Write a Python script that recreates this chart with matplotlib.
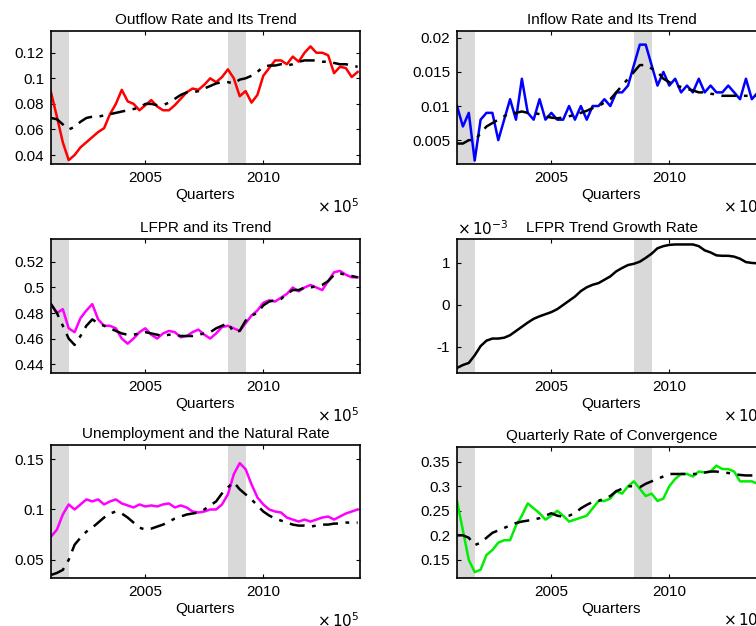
import numpy as np
import matplotlib
matplotlib.use("Agg")
import matplotlib.pyplot as plt

plt.rcParams['font.family'] = ['Liberation Sans', 'DejaVu Sans']
plt.rcParams['font.size'] = 11

quarters = 2001 + 0.25 * np.arange(53)
recessions = [(2001.0, 2001.75), (2008.5, 2009.25)]

outflow = [0.089, 0.070, 0.050, 0.036, 0.040, 0.046, 0.050, 0.054, 0.058, 0.061, 0.072, 0.080,
           0.091, 0.082, 0.080, 0.075, 0.079, 0.083, 0.078, 0.075, 0.075, 0.079, 0.084, 0.089,
           0.092, 0.091, 0.095, 0.100, 0.097, 0.101, 0.107, 0.100, 0.086, 0.090, 0.081, 0.087,
           0.102, 0.108, 0.114, 0.114, 0.111, 0.117, 0.113, 0.120, 0.125, 0.120, 0.120, 0.118,
           0.104, 0.109, 0.108, 0.101, 0.105]
outflow_trend = [0.069, 0.068, 0.064, 0.060, 0.062, 0.066, 0.069, 0.070, 0.070, 0.071, 0.072, 0.073,
                 0.074, 0.075, 0.076, 0.077, 0.080, 0.080, 0.079, 0.079, 0.081, 0.084, 0.087, 0.089,
                 0.089, 0.090, 0.092, 0.094, 0.096, 0.097, 0.097, 0.096, 0.099, 0.100, 0.102, 0.105,
                 0.109, 0.110, 0.110, 0.111, 0.110, 0.111, 0.113, 0.114, 0.114, 0.114, 0.113, 0.113,
                 0.112, 0.111, 0.111, 0.110, 0.109]

inflow = [0.010, 0.007, 0.009, 0.002, 0.008, 0.009, 0.009, 0.005, 0.008, 0.011, 0.008, 0.014,
          0.009, 0.008, 0.011, 0.008, 0.009, 0.008, 0.008, 0.010, 0.008, 0.010, 0.008, 0.010,
          0.010, 0.011, 0.010, 0.012, 0.012, 0.013, 0.016, 0.019, 0.019, 0.016, 0.013, 0.015,
          0.013, 0.014, 0.012, 0.013, 0.012, 0.014, 0.012, 0.013, 0.012, 0.012, 0.013, 0.012,
          0.011, 0.014, 0.011, 0.012, 0.012]
inflow_trend = [0.0045, 0.0045, 0.005, 0.005, 0.006, 0.007, 0.0075, 0.008, 0.0085, 0.009, 0.009, 0.0092,
                0.009, 0.009, 0.0088, 0.0085, 0.0083, 0.0082, 0.0083, 0.0085, 0.0087, 0.009, 0.0093, 0.0097,
                0.010, 0.0105, 0.011, 0.012, 0.013, 0.014, 0.015, 0.016, 0.016, 0.0155, 0.015, 0.014,
                0.0135, 0.013, 0.0128, 0.0125, 0.0123, 0.012, 0.012, 0.0118, 0.0117, 0.0115, 0.0115, 0.0115,
                0.0115, 0.0115, 0.0115, 0.0115, 0.0115]

lfpr = [0.487, 0.480, 0.483, 0.468, 0.465, 0.476, 0.482, 0.487, 0.475, 0.470, 0.470, 0.468,
        0.460, 0.456, 0.460, 0.465, 0.468, 0.463, 0.460, 0.464, 0.466, 0.465, 0.461, 0.462,
        0.465, 0.467, 0.463, 0.460, 0.464, 0.469, 0.470, 0.468, 0.466, 0.472, 0.478, 0.482,
        0.488, 0.490, 0.489, 0.492, 0.495, 0.500, 0.497, 0.500, 0.502, 0.500, 0.498, 0.505,
        0.512, 0.513, 0.510, 0.508, 0.508]
lfpr_trend = [0.487, 0.480, 0.470, 0.460, 0.455, 0.462, 0.470, 0.475, 0.472, 0.470, 0.468, 0.466,
              0.464, 0.463, 0.463, 0.464, 0.465, 0.464, 0.463, 0.462, 0.463, 0.463, 0.462, 0.462,
              0.462, 0.463, 0.464, 0.465, 0.468, 0.470, 0.472, 0.465, 0.466, 0.474, 0.478, 0.480,
              0.486, 0.489, 0.490, 0.491, 0.495, 0.498, 0.498, 0.500, 0.500, 0.501, 0.502, 0.505,
              0.510, 0.511, 0.510, 0.509, 0.508]

lfpr_growth = [-1.50, -1.43, -1.38, -1.20, -0.98, -0.85, -0.80, -0.80, -0.78, -0.72, -0.62, -0.52,
               -0.42, -0.33, -0.27, -0.22, -0.17, -0.10, 0.00, 0.10, 0.20, 0.33, 0.42, 0.48,
               0.52, 0.60, 0.68, 0.80, 0.88, 0.95, 0.98, 1.03, 1.12, 1.22, 1.35, 1.40,
               1.43, 1.44, 1.44, 1.44, 1.44, 1.40, 1.30, 1.25, 1.18, 1.17, 1.17, 1.15,
               1.10, 1.02, 1.00, 0.99, 0.98]

unemp = [0.073, 0.080, 0.095, 0.105, 0.100, 0.105, 0.110, 0.108, 0.110, 0.105, 0.108, 0.110,
         0.106, 0.104, 0.102, 0.105, 0.103, 0.104, 0.103, 0.105, 0.106, 0.102, 0.104, 0.102,
         0.098, 0.097, 0.098, 0.100, 0.100, 0.105, 0.115, 0.135, 0.146, 0.140, 0.125, 0.112,
         0.105, 0.100, 0.098, 0.097, 0.092, 0.090, 0.088, 0.090, 0.088, 0.090, 0.092, 0.093,
         0.090, 0.093, 0.096, 0.098, 0.100]
natural = [0.035, 0.037, 0.040, 0.050, 0.065, 0.072, 0.078, 0.082, 0.087, 0.092, 0.096, 0.098,
           0.096, 0.092, 0.087, 0.082, 0.080, 0.081, 0.083, 0.085, 0.088, 0.091, 0.093, 0.095,
           0.096, 0.097, 0.100, 0.104, 0.108, 0.116, 0.122, 0.127, 0.120, 0.115, 0.110, 0.104,
           0.098, 0.094, 0.091, 0.089, 0.087, 0.085, 0.084, 0.084, 0.083, 0.084, 0.085, 0.085,
           0.086, 0.086, 0.087, 0.087, 0.087]

conv = [0.27, 0.21, 0.15, 0.125, 0.13, 0.16, 0.17, 0.185, 0.19, 0.19, 0.22, 0.24,
        0.265, 0.255, 0.245, 0.232, 0.24, 0.25, 0.24, 0.228, 0.232, 0.236, 0.24, 0.255,
        0.27, 0.27, 0.275, 0.29, 0.285, 0.30, 0.31, 0.295, 0.28, 0.285, 0.27, 0.275,
        0.30, 0.315, 0.325, 0.325, 0.32, 0.33, 0.328, 0.33, 0.342, 0.335, 0.335, 0.33,
        0.31, 0.31, 0.31, 0.305, 0.31]
conv_trend = [0.20, 0.20, 0.195, 0.18, 0.185, 0.195, 0.205, 0.21, 0.215, 0.22, 0.225, 0.228,
              0.23, 0.232, 0.235, 0.24, 0.245, 0.24, 0.238, 0.24, 0.245, 0.255, 0.262, 0.268,
              0.27, 0.275, 0.28, 0.29, 0.295, 0.30, 0.30, 0.298, 0.305, 0.31, 0.315, 0.32,
              0.325, 0.325, 0.325, 0.325, 0.325, 0.325, 0.328, 0.33, 0.33, 0.328, 0.327, 0.325,
              0.323, 0.322, 0.322, 0.322, 0.322]

W, H = 756, 626
fig = plt.figure(figsize=(W / 100, H / 100), dpi=100)


def make_ax(x0, y0, x1, y1):
    return fig.add_axes([x0 / W, 1 - y1 / H, (x1 - x0) / W, (y1 - y0) / H])


panels = [
    # (box px, title, series, colour, trend, ylim, yticks, ticklabels)
    ((51, 31, 360, 164), 'Outflow Rate and Its Trend', outflow, 'red', outflow_trend,
     (0.033, 0.137), [0.04, 0.06, 0.08, 0.1, 0.12], ['0.04', '0.06', '0.08', '0.1', '0.12']),
    ((457, 31, 766, 164), 'Inflow Rate and Its Trend', inflow, 'blue', inflow_trend,
     (0.0015, 0.021), [0.005, 0.01, 0.015, 0.02], ['0.005', '0.01', '0.015', '0.02']),
    ((51, 239, 360, 373), 'LFPR and its Trend', lfpr, 'magenta', lfpr_trend,
     (0.433, 0.538), [0.44, 0.46, 0.48, 0.5, 0.52], ['0.44', '0.46', '0.48', '0.5', '0.52']),
    ((457, 239, 766, 373), 'LFPR Trend Growth Rate', lfpr_growth, 'black', None,
     (-1.62, 1.57), [-1, 0, 1], ['-1', '0', '1']),
    ((51, 445, 360, 578), 'Unemployment and the Natural Rate', unemp, 'magenta', natural,
     (0.032, 0.164), [0.05, 0.1, 0.15], ['0.05', '0.1', '0.15']),
    ((457, 447, 766, 578), 'Quarterly Rate of Convergence', conv, '#00ee00', conv_trend,
     (0.113, 0.38), [0.15, 0.2, 0.25, 0.3, 0.35], ['0.15', '0.2', '0.25', '0.3', '0.35']),
]

for box, title, series, colour, trend, ylim, yticks, ylabels in panels:
    ax = make_ax(*box)
    for a, b in recessions:
        ax.axvspan(a, b, color='#d9d9d9', lw=0, zorder=0)
    ax.plot(quarters, series, color=colour, lw=1.8, zorder=2)
    if trend is not None:
        ax.plot(quarters, trend, color='black', lw=1.8, ls=(0, (6, 3, 1.5, 3)), zorder=3)
    ax.set_xlim(2001.0, 2014.1)
    ax.set_ylim(*ylim)
    ax.set_xticks([2005, 2010])
    ax.set_xticklabels(['2005', '2010'])
    ax.set_yticks(yticks)
    ax.set_yticklabels(ylabels)
    ax.tick_params(direction='in', top=True, right=True, length=3, labelsize=11, pad=5)
    for s in ax.spines.values():
        s.set_linewidth(1.2)
    ax.set_title(title, fontsize=11, pad=5)
    ax.set_xlabel('Quarters', fontsize=11, labelpad=2)
    ax.text(1.0, -0.32, r'$\times\,10^{5}$', transform=ax.transAxes, ha='right', va='center',
            fontsize=11)
    if title == 'LFPR Trend Growth Rate':
        ax.text(0.0, 1.01, r'$\times\,10^{-3}$', transform=ax.transAxes, ha='left', va='bottom',
                fontsize=11)

fig.savefig('out.png', dpi=100)
